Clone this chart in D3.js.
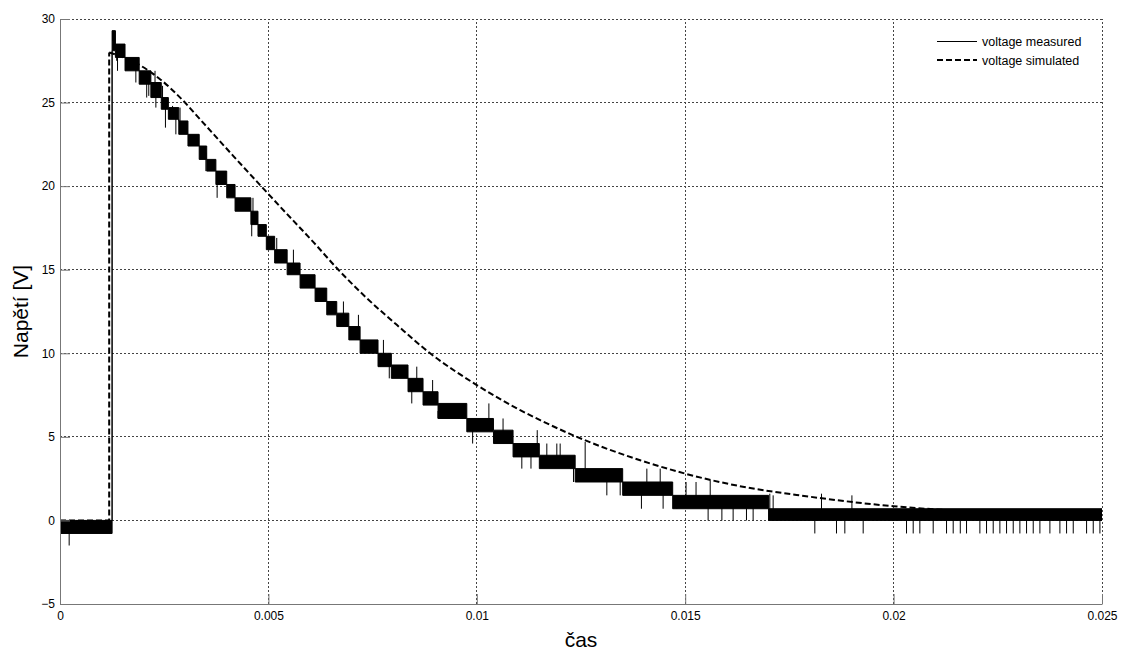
<!DOCTYPE html>
<html>
<head>
<meta charset="utf-8">
<script src="https://cdn.jsdelivr.net/npm/d3@7"></script>
<style>
  body { margin: 0; background: #fff; }
  svg { display: block; font-family: "Liberation Sans", Arial, sans-serif; }
</style>
</head>
<body>
<svg id="chart" width="1126" height="651"></svg>
<script>
// axis ticks
const xTicks = [0, 0.005, 0.01, 0.015, 0.02, 0.025]
const xTickLabels = ["0", "0.005", "0.01", "0.015", "0.02", "0.025"]
const yTicks = [-5, 0, 5, 10, 15, 20, 25, 30]

// measured voltage: quantised noise band, segment start time + band top / bottom
const measT  = [0, 0.00125, 0.00133, 0.00156, 0.00190, 0.00218, 0.00243, 0.00260, 0.00285, 0.00307,
                0.00334, 0.00352, 0.00374, 0.00400, 0.00420, 0.00458, 0.00475, 0.00495, 0.00515, 0.00545,
                0.00576, 0.00612, 0.00640, 0.00664, 0.00693, 0.00720, 0.00763, 0.00795, 0.00835, 0.00871,
                0.00907, 0.00976, 0.01040, 0.01087, 0.01150, 0.01236, 0.01350, 0.01470, 0.01700, 0.02500]
const measHi = [0.0, 29.3, 28.5, 27.7, 26.9, 26.2, 25.3, 24.7, 23.9, 23.1,
                22.4, 21.6, 20.9, 20.1, 19.3, 18.5, 17.7, 17.0, 16.2, 15.4,
                14.7, 13.9, 13.1, 12.4, 11.6, 10.8, 10.0, 9.3, 8.5, 7.7,
                7.0, 6.1, 5.4, 4.6, 3.9, 3.1, 2.3, 1.5, 0.7, 0.7]
const measLo = [-0.78, 28.1, 27.7, 26.9, 26.1, 25.3, 24.6, 24.0, 23.1, 22.4,
                21.6, 20.9, 20.1, 19.3, 18.5, 17.7, 17.0, 16.2, 15.4, 14.7,
                13.9, 13.1, 12.3, 11.6, 10.8, 10.0, 9.2, 8.5, 7.7, 6.9,
                6.1, 5.3, 4.6, 3.8, 3.1, 2.3, 1.5, 0.7, 0.0, 0.0]

// measured voltage: single-sample spikes out of the band
const spikeT = [0.00022, 0.00126, 0.00128, 0.00131, 0.00136, 0.00138, 0.00182, 0.00208, 0.00213, 0.00228,
                0.00230, 0.00246, 0.00253, 0.00270, 0.00278, 0.00288, 0.00350, 0.00377, 0.00384, 0.00460,
                0.00463, 0.00520, 0.00560, 0.00680, 0.00703, 0.00716, 0.00768, 0.00776, 0.00790, 0.00844,
                0.00856, 0.00894, 0.00907, 0.00990, 0.01029, 0.01063, 0.01108, 0.01130, 0.01145, 0.01168,
                0.01192, 0.01200, 0.01232, 0.01240, 0.01260, 0.01312, 0.01344, 0.01395, 0.01408, 0.01440,
                0.01447, 0.01480, 0.01502, 0.01526, 0.01555, 0.01560, 0.01588, 0.01615, 0.01647, 0.01663,
                0.01703, 0.01711, 0.01811, 0.01827, 0.01863, 0.01883, 0.01900, 0.01927, 0.02031, 0.02047,
                0.02063, 0.02095, 0.02127, 0.02143, 0.02160, 0.02175, 0.02207, 0.02223, 0.02239, 0.02255,
                0.02271, 0.02287, 0.02303, 0.02319, 0.02335, 0.02351, 0.02375, 0.02399, 0.02415, 0.02431,
                0.02463, 0.02479, 0.02495]
const spikeV = [-1.5, 29.3, 29.3, 29.3, 27.5, 26.9, 26.2, 25.3, 25.4, 26.9,
                24.7, 26.0, 23.5, 24.8, 23.1, 24.7, 20.9, 19.3, 20.8, 17.0,
                19.3, 16.9, 16.2, 13.1, 10.8, 12.3, 9.2, 10.8, 8.5, 7.0,
                9.2, 8.4, 6.1, 4.6, 7.0, 6.1, 3.1, 3.1, 5.4, 4.6,
                4.6, 4.6, 2.3, 2.5, 4.7, 1.5, 1.5, 0.7, 3.1, 3.1,
                0.7, 0.7, 2.3, 2.3, 0.0, 2.4, 0.0, 0.0, 0.0, 0.0,
                1.6, 1.5, -0.78, 1.6, -0.78, -0.78, 1.5, -0.78, -0.78, -0.78,
                -0.78, -0.78, -0.78, -0.78, -0.78, -0.78, -0.78, -0.78, -0.78, -0.78,
                -0.78, -0.78, -0.78, -0.78, -0.78, -0.78, -0.78, -0.78, -0.78, -0.78,
                -0.78, -0.78, -0.78]

// simulated voltage
const simT = [0, 0.00118, 0.00118, 0.00176, 0.00240, 0.00296, 0.00336, 0.00416, 0.00488, 0.00544,
              0.00608, 0.00664, 0.00736, 0.00808, 0.00888, 0.01000, 0.01104, 0.01152, 0.01240, 0.01392,
              0.01500, 0.01631, 0.01790, 0.01999, 0.02207, 0.02500]
const simV = [0, 0, 28.0, 27.45, 26.4, 25.1, 24.0, 21.8, 19.85, 18.35,
              16.65, 15.1, 13.3, 11.7, 10.0, 8.1, 6.6, 6.0, 5.0, 3.6,
              2.8, 2.05, 1.45, 0.85, 0.52, 0.26]

const seriesNames = ["voltage measured", "voltage simulated"]

const width = 1126, height = 651
const margin = {top: 19, right: 24, bottom: 47, left: 60}
const axisColor = "#777"
const gridColor = "#444"

const svg = d3.select("#chart")

const x = d3.scaleLinear()
    .domain([0, 0.025])
    .range([margin.left, width - margin.right])
const y = d3.scaleLinear()
    .domain([-5, 30])
    .range([height - margin.bottom, margin.top])

// dotted grid
svg.append("g")
    .selectAll("line")
    .data(xTicks.slice(1))
    .join("line")
        .attr("x1", d => x(d)).attr("x2", d => x(d))
        .attr("y1", y(-5)).attr("y2", y(30))
        .attr("stroke", gridColor)
        .attr("stroke-dasharray", "2,2")
        .attr("shape-rendering", "crispEdges")
svg.append("g")
    .selectAll("line")
    .data(yTicks.slice(1))
    .join("line")
        .attr("x1", x(0)).attr("x2", x(0.025))
        .attr("y1", d => y(d)).attr("y2", d => y(d))
        .attr("stroke", gridColor)
        .attr("stroke-dasharray", "2,2")
        .attr("shape-rendering", "crispEdges")

// measured band (stepped blocks between two adjacent ADC levels)
const band = measT.map((t, i) => ({t, hi: measHi[i], lo: measLo[i]}))
const plot = svg.append("g")

plot.append("path")
    .datum(band)
    .attr("fill", "#000")
    .attr("d", d3.area()
        .x(d => x(d.t))
        .y0(d => y(d.lo))
        .y1(d => y(d.hi))
        .curve(d3.curveStepAfter))

const edge = key => d3.line().x(d => x(d.t)).y(d => y(d[key])).curve(d3.curveStepAfter)
plot.append("path").datum(band).attr("fill", "none").attr("stroke", "#000").attr("d", edge("hi"))
plot.append("path").datum(band).attr("fill", "none").attr("stroke", "#000").attr("d", edge("lo"))

const bandAt = t => band[Math.max(0, d3.bisectRight(measT, t) - 1)]
plot.append("g")
    .selectAll("line")
    .data(spikeT.map((t, i) => ({t, v: spikeV[i]})))
    .join("line")
        .attr("x1", d => x(d.t)).attr("x2", d => x(d.t))
        .attr("y1", d => y((bandAt(d.t).hi + bandAt(d.t).lo) / 2))
        .attr("y2", d => y(d.v))
        .attr("stroke", "#000")
        .attr("stroke-width", 1)

// simulated curve: flat part + rise, then smooth decay
const sim = simT.map((t, i) => ({t, v: simV[i]}))
const simLine = curve => d3.line().x(d => x(d.t)).y(d => y(d.v)).curve(curve)
plot.append("path")
    .datum(sim.slice(0, 3))
    .attr("fill", "none")
    .attr("stroke", "#000")
    .attr("stroke-width", 2)
    .attr("stroke-dasharray", "6,3")
    .attr("d", simLine(d3.curveLinear))
plot.append("path")
    .datum(sim.slice(2))
    .attr("fill", "none")
    .attr("stroke", "#000")
    .attr("stroke-width", 2)
    .attr("stroke-dasharray", "6,3")
    .attr("d", simLine(d3.curveMonotoneX))

// axes
const xAxis = g => g
    .attr("transform", `translate(0, ${y(-5)})`)
    .call(d3.axisBottom(x).tickValues(xTicks).tickFormat((d, i) => xTickLabels[i])
        .tickSizeInner(-10).tickSizeOuter(0).tickPadding(7))
const yAxis = g => g
    .attr("transform", `translate(${x(0)}, 0)`)
    .call(d3.axisLeft(y).tickValues(yTicks).tickFormat(d3.format("d"))
        .tickSizeInner(-10).tickSizeOuter(0).tickPadding(5))

for (const ax of [xAxis, yAxis]) {
    svg.append("g")
        .call(ax)
        .call(g => g.selectAll(".domain, line").attr("stroke", axisColor))
        .call(g => g.selectAll("text").attr("fill", "#000").attr("font-size", 12)
            .attr("font-family", "'Liberation Sans', Arial, sans-serif"))
}

// axis titles
svg.append("text")
    .attr("x", (x(0) + x(0.025)) / 2)
    .attr("y", 647)
    .attr("text-anchor", "middle")
    .attr("font-size", 21)
    .text("čas")
svg.append("text")
    .attr("transform", `translate(28, ${(y(-5) + y(30)) / 2}) rotate(-90)`)
    .attr("text-anchor", "middle")
    .attr("font-size", 21)
    .text("Napětí [V]")

// legend
const legend = svg.append("g")
    .selectAll("g")
    .data(seriesNames)
    .join("g")
        .attr("transform", (d, i) => `translate(937, ${41.5 + i * 18.5})`)
legend.append("line")
    .attr("x1", 0).attr("x2", 40)
    .attr("stroke", "#000")
    .attr("stroke-width", (d, i) => i ? 2 : 1)
    .attr("stroke-dasharray", (d, i) => i ? "6,3" : null)
legend.append("text")
    .attr("x", 45)
    .attr("y", 4.5)
    .attr("font-size", 12.5)
    .text(d => d)
</script>
</body>
</html>
